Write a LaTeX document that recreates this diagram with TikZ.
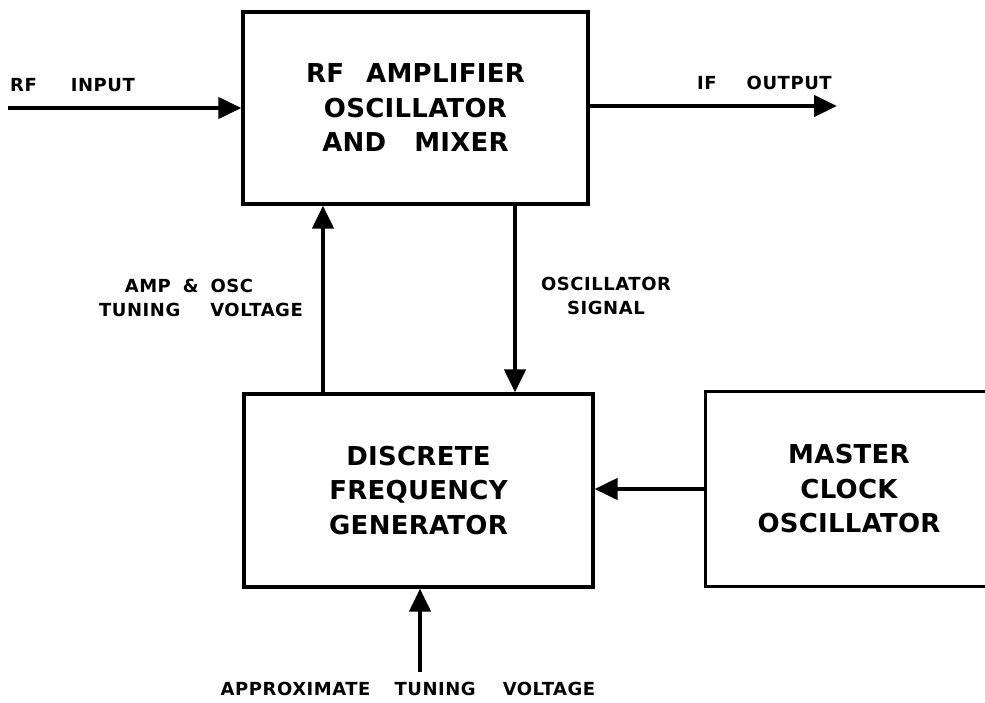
\documentclass[tikz,border=0pt]{standalone}
\usepackage{fontspec}
\setmainfont{DejaVu Sans}
\newfontfamily\boxfont[LetterSpace=1]{DejaVu Sans}
\newfontfamily\labfont[LetterSpace=3]{DejaVu Sans}
\usetikzlibrary{arrows.meta}
\newcommand{\wg}[1]{\hspace{#1pt}}
\tikzset{
  blk/.style={draw, line width=3.2pt, inner sep=0pt, align=center,
    font=\boxfont\bfseries\fontsize{26}{34.5}\selectfont},
  arr/.style={line width=4.4pt, -{Triangle[length=23pt,width=21pt]}},
  lab/.style={inner sep=0pt, align=center,
    font=\labfont\bfseries\fontsize{18}{24}\selectfont}
}
\begin{document}
\begin{tikzpicture}[x=1pt,y=-1pt]
\useasboundingbox (0,0) rectangle (985,702);
% blocks
\node[blk, minimum width=345pt, minimum height=192pt] (amp) at (415.5,108)
  {RF\wg{22}AMPLIFIER\\OSCILLATOR\\AND\wg{28}MIXER};
\node[blk, minimum width=349pt, minimum height=193pt] (dfg) at (418.5,490.5)
  {DISCRETE\\FREQUENCY\\GENERATOR};
\node[blk, draw=none, minimum width=284pt, minimum height=192pt] (mco) at (849,489)
  {MASTER\\CLOCK\\OSCILLATOR};
\coordinate (redge) at (985,0);
\draw[line width=3.2pt] (mco.north west -| redge) -- (mco.north west)
  -- (mco.south west) -- (mco.south west -| redge);
% connector coordinates
\coordinate (rfin) at (8,108);
\coordinate (ifout) at (837,106);
\coordinate (upx) at (323,0);
\coordinate (downx) at (515,0);
\coordinate (apin) at (420,672);
% connectors
\draw[arr] (rfin) -- (rfin -| amp.west);
\draw[arr] (ifout -| amp.east) -- (ifout);
\draw[arr] (upx |- dfg.north) -- (upx |- amp.south);
\draw[arr] (downx |- amp.south) -- (downx |- dfg.north);
\draw[arr] (mco.west) -- (mco.west -| dfg.east);
\draw[arr] (apin) -- (apin |- dfg.south);
% labels
\node[lab, anchor=west] (lrf) at (10,85) {RF\wg{34}INPUT};
\node[lab, anchor=west] (lif) at (697,83) {IF\wg{30}OUTPUT};
\node[lab] (ltune) at (201,298) {AMP\wg{12}\&\wg{12}OSC\rule{24pt}{0pt}\\TUNING\wg{30}VOLTAGE};
\node[lab] (losc) at (606,296) {OSCILLATOR\\SIGNAL};
\node[lab] (lappr) at (408,689) {APPROXIMATE\wg{24}TUNING\wg{27}VOLTAGE};
\end{tikzpicture}
\end{document}
